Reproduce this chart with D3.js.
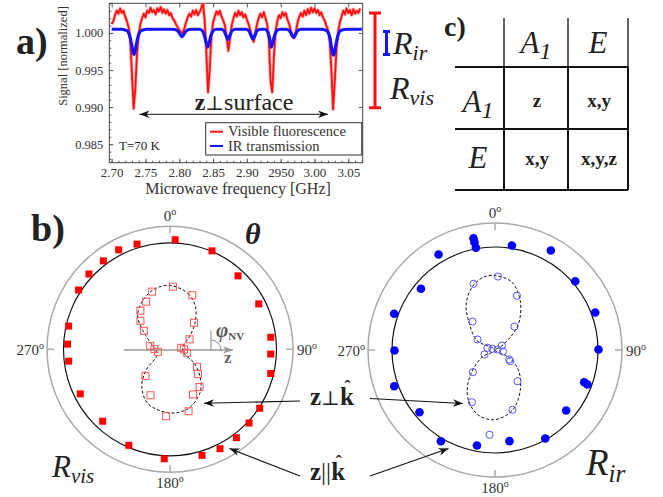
<!DOCTYPE html>
<html>
<head>
<meta charset="utf-8">
<script src="https://cdn.jsdelivr.net/npm/d3@7"></script>
<style>
  body { margin: 0; background: #fff; }
  svg { display: block; font-family: "Liberation Serif", "Times New Roman", serif; }
</style>
</head>
<body>
<div id="fig"></div>
<script>
// ---------- panel a data ----------
const xTicks = [2.70, 2.75, 2.80, 2.85, 2.90, 2.95, 3.00, 3.05];
const xTickLabels = ["2.70", "2.75", "2.80", "2.85", "2.90", "2950", "3.00", "3.05"];
const yTicks = [0.985, 0.990, 0.995, 1.000];
const yTickLabels = ["0.985", "0.990", "0.995", "1.000"];

// visible fluorescence
const redSignal = [
  [2.7000,1.0012],[2.7025,1.0016],[2.7050,1.0024],[2.7075,1.0030],[2.7100,1.0026],[2.7125,1.0033],
  [2.7150,1.0027],[2.7175,1.0030],[2.7200,1.0022],[2.7225,1.0016],[2.7250,1.0008],[2.7275,0.9990],
  [2.7300,0.9945],[2.7325,0.9898],[2.7350,0.9925],[2.7375,0.9972],[2.7400,0.9998],[2.7425,1.0012],
  [2.7450,1.0020],[2.7475,1.0026],[2.7500,1.0021],[2.7525,1.0030],[2.7550,1.0027],[2.7575,1.0034],
  [2.7600,1.0028],[2.7625,1.0031],[2.7650,1.0025],[2.7675,1.0033],[2.7700,1.0029],[2.7725,1.0035],
  [2.7750,1.0027],[2.7775,1.0032],[2.7800,1.0026],[2.7825,1.0031],[2.7850,1.0024],[2.7875,1.0027],
  [2.7900,1.0020],[2.7925,1.0017],[2.7950,1.0012],[2.7975,1.0008],[2.8000,1.0004],[2.8025,1.0001],
  [2.8050,1.0000],[2.8075,1.0006],[2.8100,1.0014],[2.8125,1.0021],[2.8150,1.0026],[2.8175,1.0022],
  [2.8200,1.0030],[2.8225,1.0025],[2.8250,1.0031],[2.8275,1.0024],[2.8300,1.0028],[2.8325,1.0033],
  [2.8350,1.0041],[2.8375,1.0018],[2.8400,0.9975],[2.8425,0.9920],[2.8450,0.9950],[2.8475,0.9995],
  [2.8500,1.0014],[2.8525,1.0022],[2.8550,1.0029],[2.8575,1.0025],[2.8600,1.0030],[2.8625,1.0022],
  [2.8650,1.0017],[2.8675,1.0010],[2.8700,0.9995],[2.8725,0.9976],[2.8750,0.9992],[2.8775,1.0010],
  [2.8800,1.0019],[2.8825,1.0027],[2.8850,1.0022],[2.8875,1.0030],[2.8900,1.0024],[2.8925,1.0028],
  [2.8950,1.0021],[2.8975,1.0025],[2.9000,1.0018],[2.9025,1.0012],[2.9050,1.0004],[2.9075,0.9993],
  [2.9100,0.9988],[2.9125,1.0000],[2.9150,1.0012],[2.9175,1.0020],[2.9200,1.0026],[2.9225,1.0021],
  [2.9250,1.0028],[2.9275,1.0020],[2.9300,1.0012],[2.9325,0.9990],[2.9350,0.9935],[2.9375,0.9920],
  [2.9400,0.9968],[2.9425,1.0002],[2.9450,1.0016],[2.9475,1.0024],[2.9500,1.0020],[2.9525,1.0028],
  [2.9550,1.0023],[2.9575,1.0027],[2.9600,1.0018],[2.9625,1.0012],[2.9650,1.0003],[2.9675,0.9996],
  [2.9700,0.9993],[2.9725,1.0002],[2.9750,1.0014],[2.9775,1.0022],[2.9800,1.0027],[2.9825,1.0022],
  [2.9850,1.0030],[2.9875,1.0024],[2.9900,1.0032],[2.9925,1.0026],[2.9950,1.0034],[2.9975,1.0028],
  [3.0000,1.0033],[3.0025,1.0027],[3.0050,1.0031],[3.0075,1.0024],[3.0100,1.0028],[3.0125,1.0021],
  [3.0150,1.0017],[3.0175,1.0010],[3.0200,1.0004],[3.0225,0.9990],[3.0250,0.9950],[3.0275,0.9897],
  [3.0300,0.9935],[3.0325,0.9978],[3.0350,1.0002],[3.0375,1.0014],[3.0400,1.0022],[3.0425,1.0030],
  [3.0450,1.0025],[3.0475,1.0033],[3.0500,1.0027],[3.0525,1.0031],[3.0550,1.0024],[3.0575,1.0032],
  [3.0600,1.0026],[3.0625,1.0030],[3.0650,1.0027],[3.0675,1.0033]
];

// IR transmission
const blueSignal = [
  [2.700,1.0005],[2.715,1.0005],[2.720,1.0004],[2.724,1.0002],[2.727,0.9995],[2.730,0.9982],
  [2.732,0.9973],[2.733,0.9971],[2.734,0.9973],[2.736,0.9982],[2.739,0.9995],[2.742,1.0002],
  [2.746,1.0004],[2.752,1.0005],[2.790,1.0005],[2.796,1.0004],[2.800,1.0000],[2.802,0.9997],
  [2.804,0.9995],[2.806,0.9997],[2.808,1.0000],[2.812,1.0004],[2.818,1.0005],[2.830,1.0005],
  [2.834,1.0003],[2.837,0.9997],[2.840,0.9986],[2.842,0.9981],[2.844,0.9986],[2.847,0.9997],
  [2.850,1.0003],[2.855,1.0005],[2.862,1.0005],[2.866,1.0003],[2.869,0.9997],[2.872,0.9991],
  [2.875,0.9997],[2.878,1.0003],[2.883,1.0005],[2.898,1.0005],[2.903,1.0003],[2.906,0.9997],
  [2.909,0.9992],[2.912,0.9997],[2.915,1.0003],[2.920,1.0005],[2.926,1.0005],[2.930,1.0003],
  [2.933,0.9995],[2.935,0.9985],[2.936,0.9981],[2.938,0.9986],[2.941,0.9997],[2.944,1.0003],
  [2.949,1.0005],[2.958,1.0005],[2.963,1.0003],[2.966,0.9998],[2.969,0.9994],[2.972,0.9998],
  [2.975,1.0003],[2.980,1.0005],[3.010,1.0005],[3.016,1.0004],[3.020,1.0001],[3.023,0.9993],
  [3.025,0.9981],[3.027,0.9972],[3.028,0.9970],[3.029,0.9972],[3.031,0.9981],[3.034,0.9994],
  [3.037,1.0002],[3.041,1.0004],[3.048,1.0005],[3.070,1.0005]
];

const visBar = [0.9899, 1.0027];
const irBar = [0.9971, 1.0002];

// ---------- panel b data: [angle in degrees, radius relative to fit circle] ----------
const visParallel = [
  [2.7,1.03],[23.1,1.005],[42.8,0.94],[62.9,0.936],[83.2,0.953],[92.7,0.947],[103.5,0.973],
  [123.3,1.008],[133,1.015],[143.1,1.038],[153.3,1.045],[163.2,1.04],[183,1.029],[203.2,0.981],
  [223.1,0.925],[243.6,0.941],[263.3,0.958],[272.9,0.963],[282.9,0.977],[303,1.023],[312.9,1.039],
  [323,1.04],[332.7,1.051],[342.6,1.035]
];
const visPerp = [
  [2.7,0.589],[22.4,0.549],[342.8,0.567],[333.4,0.5],[322.5,0.457],[314,0.386],[42,0.336],
  [305.3,0.301],[280,0.189],[270.7,0.146],[258,0.116],[82.4,0.106],[90.4,0.131],[101.5,0.165],
  [63,0.206],[123,0.302],[131.6,0.351],[141.8,0.449],[222.8,0.34],[203,0.469],[153,0.476],
  [163.3,0.607],[183.3,0.63]
];
const visPerpFit = [
  [0,0.60],[18,0.55],[31,0.465],[44,0.335],[57,0.218],[76,0.125],[90,0.12],[108,0.144],
  [120,0.266],[135,0.408],[146,0.50],[163,0.582],[180,0.598],[202,0.551],[217,0.44],[229,0.298],
  [246,0.133],[270,0.14],[287,0.186],[305,0.313],[315,0.43],[328,0.51],[344,0.58]
];
const irParallel = [
  [349.1,1.105],[349.2,1.065],[349.4,1.01],[9.2,1.028],[29.3,1.108],[49.4,1.026],[69.5,1.039],
  [89.7,1.005],[109.9,0.921],[110.5,0.958],[130.4,0.907],[150.4,0.988],[171,0.896],[190.7,0.944],
  [210.7,1.03],[230.5,0.95],[250.2,1.04],[269.7,0.976],[289.8,1.04],[309.6,0.933],[329.4,1.077]
];
const irPerp = [
  [2.3,0.714],[342,0.676],[22,0.568],[321.7,0.352],[39.7,0.296],[301,0.198],[286,0.076],
  [296,0.027],[79,0.025],[57,0.08],[100.8,0.078],[246.8,0.111],[123.8,0.166],[126.4,0.183],
  [224.9,0.304],[144.2,0.374],[203.9,0.554],[163.7,0.605],[183.7,0.825]
];
const irPerpFit = [
  [0,0.723],[14,0.679],[27,0.539],[42,0.342],[50,0.193],[61,0.058],[90,0.0],[118,0.149],
  [131,0.303],[148,0.463],[164,0.61],[181,0.678],[196,0.644],[210,0.53],[223,0.362],[241,0.145],
  [270,0.0],[298,0.199],[318,0.385],[328,0.528],[340,0.65],[351,0.716]
];
const degTicks = [0, 90, 180, 270];

// ---------- panel c data ----------
const tableCols = ["A", "E"];
const tableRows = ["A", "E"];
const tableCells = [["z", "x,y"], ["x,y", "x,y,z"]];

const W = 663, H = 497;
const svg = d3.select("#fig").append("svg").attr("width", W).attr("height", H);

const defs = svg.append("defs");
function arrowMarker(id, color) {
  defs.append("marker")
    .attr("id", id)
    .attr("viewBox", "-11 -5 12 10")
    .attr("refX", 0).attr("refY", 0)
    .attr("markerUnits", "userSpaceOnUse")
    .attr("markerWidth", 12).attr("markerHeight", 10)
    .attr("orient", "auto-start-reverse")
    .append("path")
    .attr("d", "M0,0 L-10,-3.8 L-7,0 L-10,3.8 Z")
    .attr("fill", color);
}
arrowMarker("ah", "#111");
arrowMarker("ahGray", "#999");

// ================= panel a =================
const xA = d3.scaleLinear().domain([2.6965, 3.0713]).range([109.3, 362.7]);
const yA = d3.scaleLinear().domain([0.9825, 1.0040]).range([162.7, 3.3]);
const gA = svg.append("g");

defs.append("clipPath").attr("id", "clipA").append("rect")
  .attr("x", xA.range()[0]).attr("y", yA.range()[1])
  .attr("width", xA.range()[1] - xA.range()[0])
  .attr("height", yA.range()[0] - yA.range()[1]);

function styleAxis(g, size) {
  g.select(".domain").remove();
  g.selectAll("line").attr("stroke", "#555");
  g.selectAll("text").attr("font-family", "Liberation Serif, serif")
    .attr("font-size", size).attr("fill", "#333");
}

gA.append("g").attr("transform", `translate(0,${yA.range()[0]})`)
  .call(d3.axisBottom(xA).tickValues(xTicks).tickFormat((d, i) => xTickLabels[i])
    .tickSizeInner(-4).tickSizeOuter(0).tickPadding(5))
  .call(g => styleAxis(g, 13));
gA.append("g").attr("transform", `translate(0,${yA.range()[0]})`)
  .call(d3.axisBottom(xA).tickValues(d3.range(2.70, 3.071, 0.01)).tickFormat("")
    .tickSizeInner(-2).tickSizeOuter(0))
  .call(g => styleAxis(g, 13));
gA.append("g").attr("transform", `translate(0,${yA.range()[1]})`)
  .call(d3.axisTop(xA).tickValues(xTicks).tickFormat("").tickSizeInner(-4).tickSizeOuter(0))
  .call(g => styleAxis(g, 13));
gA.append("g").attr("transform", `translate(${xA.range()[0]},0)`)
  .call(d3.axisLeft(yA).tickValues(yTicks).tickFormat((d, i) => yTickLabels[i])
    .tickSizeInner(-4).tickSizeOuter(0).tickPadding(6))
  .call(g => styleAxis(g, 12.5));
gA.append("g").attr("transform", `translate(${xA.range()[0]},0)`)
  .call(d3.axisLeft(yA).tickValues(d3.range(0.983, 1.0041, 0.001)).tickFormat("")
    .tickSizeInner(-2).tickSizeOuter(0))
  .call(g => styleAxis(g, 12.5));
gA.append("g").attr("transform", `translate(${xA.range()[1]},0)`)
  .call(d3.axisRight(yA).tickValues(yTicks).tickFormat("").tickSizeInner(-4).tickSizeOuter(0))
  .call(g => styleAxis(g, 12.5));

gA.append("rect")
  .attr("x", xA.range()[0]).attr("y", yA.range()[1])
  .attr("width", xA.range()[1] - xA.range()[0])
  .attr("height", yA.range()[0] - yA.range()[1])
  .attr("fill", "none").attr("stroke", "#444").attr("stroke-width", 1);

const lineA = d3.line().x(d => xA(d[0])).y(d => yA(d[1]));
const plotA = gA.append("g").attr("clip-path", "url(#clipA)");
// soft halo under the noisy red trace
plotA.append("path").datum(redSignal).attr("d", lineA)
  .attr("fill", "none").attr("stroke", "#ff8a8a").attr("stroke-width", 3.4)
  .attr("stroke-linejoin", "round").attr("opacity", 0.7);
plotA.append("path").datum(redSignal).attr("d", lineA)
  .attr("fill", "none").attr("stroke", "#ff1010").attr("stroke-width", 1.8)
  .attr("stroke-linejoin", "round");
plotA.append("path").datum(blueSignal).attr("d", lineA.curve(d3.curveMonotoneX))
  .attr("fill", "none").attr("stroke", "#1414ff").attr("stroke-width", 3.2);

// axis labels
gA.append("text").attr("x", 238).attr("y", 194).attr("text-anchor", "middle")
  .attr("font-size", 16).attr("fill", "#333").text("Microwave frequency [GHz]");
gA.append("text").attr("transform", "translate(67,56) rotate(-90)")
  .attr("text-anchor", "middle").attr("font-size", 12.5).attr("fill", "#333")
  .text("Signal [normalized]");

// z ⊥ surface with double arrow
gA.append("line").attr("x1", 139.5).attr("x2", 328).attr("y1", 114.3).attr("y2", 114.3)
  .attr("stroke", "#111").attr("stroke-width", 1)
  .attr("marker-start", "url(#ah)").attr("marker-end", "url(#ah)");
const zs = gA.append("text").attr("x", 244).attr("y", 110).attr("text-anchor", "middle")
  .attr("font-size", 24).attr("fill", "#222");
zs.append("tspan").attr("font-weight", "bold").text("z");
zs.append("tspan").attr("font-family", "DejaVu Serif").attr("font-size", 20).text("\u22A5");
zs.append("tspan").text("surface");

gA.append("text").attr("x", 119).attr("y", 150).attr("font-size", 13).attr("fill", "#222")
  .text("T=70 K");

// legend
gA.append("rect").attr("x", 205.7).attr("y", 122.7).attr("width", 156).attr("height", 32.3)
  .attr("fill", "#fff").attr("stroke", "#333").attr("stroke-width", 1);
[["Visible fluorescence", "#ff1010", 131.7], ["IR transmission", "#1414ff", 146]].forEach(([t, c, y]) => {
  gA.append("line").attr("x1", 210).attr("x2", 223).attr("y1", y).attr("y2", y)
    .attr("stroke", c).attr("stroke-width", 2);
  gA.append("text").attr("x", 228).attr("y", y + 4.5).attr("font-size", 14.5).attr("fill", "#333").text(t);
});

// contrast bars
function contrastBar(x, range, half, color) {
  const y0 = yA(range[0]), y1 = yA(range[1]);
  gA.append("path")
    .attr("d", `M${x},${y0}V${y1}M${x - half},${y0}H${x + half}M${x - half},${y1}H${x + half}`)
    .attr("stroke", color).attr("stroke-width", 3).attr("fill", "none");
}
contrastBar(375, visBar, 6, "#ff1010");
contrastBar(386.5, irBar, 3.5, "#1414ff");

function rLabel(g, x, y, sub, size, subSize, anchor) {
  const t = g.append("text").attr("x", x).attr("y", y).attr("font-style", "italic")
    .attr("font-size", size).attr("fill", "#222").attr("text-anchor", anchor || "start");
  t.append("tspan").text("R");
  t.append("tspan").attr("font-size", subSize).attr("dy", size * 0.2).text(sub);
  return t;
}
rLabel(gA, 393, 54, "ir", 32, 22);
rLabel(gA, 390, 99, "vis", 32, 22);

svg.append("text").attr("x", 16).attr("y", 54).attr("font-size", 38).attr("font-weight", "bold")
  .attr("fill", "#222").text("a)");

// ================= panel c =================
const gC = svg.append("g");
const colX = [504, 568, 628];
const rowY = [67, 129, 190];
const tLine = (x1, y1, x2, y2, w) => gC.append("line").attr("x1", x1).attr("y1", y1)
  .attr("x2", x2).attr("y2", y2).attr("stroke", "#111").attr("stroke-width", w);
colX.forEach(x => tLine(x, 18, x, rowY[0], 1.3));
colX.forEach(x => tLine(x, rowY[0], x, rowY[2], 2));
rowY.forEach(y => tLine(455, y, colX[2], y, 2));

function symLabel(x, y, s) {
  const t = gC.append("text").attr("x", x).attr("y", y).attr("text-anchor", "middle")
    .attr("font-style", "italic").attr("font-size", 31).attr("fill", "#222");
  t.append("tspan").text(s);
  if (s === "A") t.append("tspan").attr("font-size", 24).attr("dy", 6).text("1");
}
tableCols.forEach((s, i) => symLabel((colX[i] + colX[i + 1]) / 2, 53, s));
tableRows.forEach((s, i) => symLabel(478, i === 0 ? 112 : 168, s));
tableCells.forEach((row, i) => row.forEach((s, j) => {
  gC.append("text").attr("x", (colX[j] + colX[j + 1]) / 2 + 1).attr("y", i === 0 ? 107 : 165)
    .attr("text-anchor", "middle").attr("font-weight", "bold").attr("font-size", 19)
    .attr("fill", "#222").text(s);
}));
svg.append("text").attr("x", 444).attr("y", 36).attr("font-size", 28).attr("font-weight", "bold")
  .attr("fill", "#222").text("c)");

// ================= panel b =================
const angle = d3.scaleLinear().domain([0, 360]).range([0, 2 * Math.PI]);

function drawPolar(o) {
  const g = svg.append("g").attr("transform", `translate(${o.cx},${o.cy})`);
  const r = d3.scaleLinear().domain([0, 1]).range([0, o.rFit]);
  const pt = d => d3.pointRadial(angle(d[0]), r(d[1]));

  g.append("circle").attr("r", o.rOuter).attr("fill", "none")
    .attr("stroke", "#aaa").attr("stroke-width", 1.5);
  degTicks.forEach(a => {
    const [x1, y1] = d3.pointRadial(angle(a), o.rOuter);
    const [x2, y2] = d3.pointRadial(angle(a), o.rOuter - 7);
    g.append("line").attr("x1", x1).attr("y1", y1).attr("x2", x2).attr("y2", y2)
      .attr("stroke", "#aaa").attr("stroke-width", 1.5);
  });
  const degPos = {
    0: [0, -o.rOuter - 5, "middle"], 90: [o.rOuter + 4, 6, "start"],
    180: [0, o.rOuter + 16, "middle"], 270: [-o.rOuter - 3, 6, "end"]
  };
  degTicks.forEach(a => {
    const [x, y, anc] = degPos[a];
    const t = g.append("text").attr("x", x).attr("y", y).attr("text-anchor", anc)
      .attr("font-size", 15).attr("fill", "#333");
    t.append("tspan").text(a);
    t.append("tspan").attr("font-size", 10).attr("dy", -6).text("o");
  });

  if (o.axis) o.axis(g);

  g.append("circle").attr("r", r(1)).attr("fill", "none")
    .attr("stroke", "#111").attr("stroke-width", 1.2);
  g.append("path").datum(o.fit)
    .attr("d", d3.lineRadial().angle(d => angle(d[0])).radius(d => r(d[1]))
      .curve(d3.curveCatmullRomClosed.alpha(0.5)))
    .attr("fill", "none").attr("stroke", "#111").attr("stroke-width", 1)
    .attr("stroke-dasharray", "3,2");

  if (o.shape === "square") {
    g.selectAll(".open").data(o.open).join("rect")
      .attr("x", d => pt(d)[0] - 3.5).attr("y", d => pt(d)[1] - 3.5)
      .attr("width", 7).attr("height", 7)
      .attr("fill", "none").attr("stroke", o.openColor).attr("stroke-width", 1);
    g.selectAll(".full").data(o.full).join("rect")
      .attr("x", d => pt(d)[0] - 3.5).attr("y", d => pt(d)[1] - 3.5)
      .attr("width", 7).attr("height", 7).attr("fill", o.color);
  } else {
    g.selectAll(".open").data(o.open).join("circle")
      .attr("cx", d => pt(d)[0]).attr("cy", d => pt(d)[1]).attr("r", 3.6)
      .attr("fill", "none").attr("stroke", o.openColor).attr("stroke-width", 1);
    g.selectAll(".full").data(o.full).join("circle")
      .attr("cx", d => pt(d)[0]).attr("cy", d => pt(d)[1]).attr("r", 4.3)
      .attr("fill", o.color);
  }
  return g;
}

drawPolar({
  cx: 170, cy: 349.3, rFit: 106.5, rOuter: 123,
  full: visParallel, open: visPerp, fit: visPerpFit,
  shape: "square", color: "#ff0000", openColor: "#f55",
  axis: g => {
    g.append("line").attr("x1", -46).attr("x2", 63).attr("y1", 0.7).attr("y2", 0.7)
      .attr("stroke", "#999").attr("stroke-width", 1.5).attr("marker-end", "url(#ahGray)");
    g.append("path").attr("d", "M41,-19V0.7M41,-9.3A10,10 0 0 1 51,0.7")
      .attr("fill", "none").attr("stroke", "#888").attr("stroke-width", 1);
    const ph = g.append("text").attr("x", 46).attr("y", -12).attr("fill", "#555")
      .attr("font-weight", "bold").attr("font-size", 21);
    ph.append("tspan").attr("font-style", "italic").text("\u03C6");
    ph.append("tspan").attr("font-size", 11).attr("dy", 3).text("NV");
    g.append("text").attr("x", 54).attr("y", 14).attr("fill", "#666")
      .attr("font-weight", "bold").attr("font-size", 17).text("z");
  }
});
drawPolar({
  cx: 495, cy: 350, rFit: 103, rOuter: 127,
  full: irParallel, open: irPerp, fit: irPerpFit,
  shape: "circle", color: "#0000ff", openColor: "#5555ff"
});

svg.append("text").attr("x", 31).attr("y", 241).attr("font-size", 38).attr("font-weight", "bold")
  .attr("fill", "#222").text("b)");
svg.append("text").attr("x", 245).attr("y", 244).attr("font-size", 30).attr("font-weight", "bold")
  .attr("font-style", "italic").attr("fill", "#222").text("\u03B8");
rLabel(svg, 52, 477, "vis", 31, 21);
rLabel(svg, 586, 475, "ir", 37, 25);

// annotation arrows
const arrows = [
  [300, 401, 204, 403.3], [370, 398.5, 463, 403.5],
  [300, 476, 229.5, 448.5], [370, 476, 448.5, 448.5]
];
arrows.forEach(([x1, y1, x2, y2]) => {
  svg.append("line").attr("x1", x1).attr("y1", y1).attr("x2", x2).attr("y2", y2)
    .attr("stroke", "#111").attr("stroke-width", 1.1).attr("marker-end", "url(#ah)");
});
function kLabel(x, y, rel, relFont, relSize) {
  const t = svg.append("text").attr("x", x).attr("y", y).attr("font-size", 25).attr("fill", "#222");
  t.append("tspan").attr("font-weight", "bold").text("z");
  t.append("tspan").attr("font-family", relFont).attr("font-size", relSize).text(rel);
  t.append("tspan").attr("font-weight", "bold").text("k");
  const bb = t.node().getBBox();
  svg.append("text").attr("x", bb.x + bb.width - 6.5).attr("y", y - 12)
    .attr("text-anchor", "middle").attr("font-size", 18).attr("font-weight", "bold")
    .attr("fill", "#222").text("\u02C6");
}
kLabel(310, 405, "\u22A5", "DejaVu Serif", 20);
kLabel(310, 480, "||", "Liberation Serif", 25);
</script>
</body>
</html>
